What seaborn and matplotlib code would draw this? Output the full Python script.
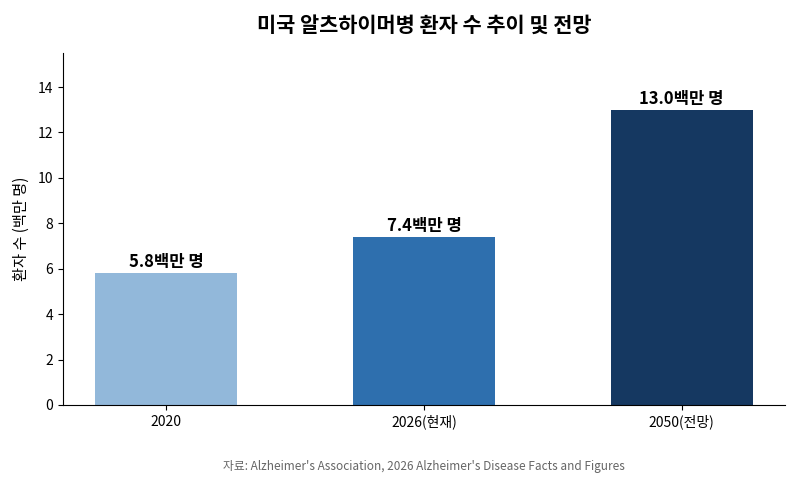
import matplotlib
matplotlib.use("Agg")
import matplotlib.pyplot as plt
import seaborn as sns
import pandas as pd

# data
years = ["2020", "2026(현재)", "2050(전망)"]
patients = [5.8, 7.4, 13.0]
bar_colors = ["#92b8da", "#2e6fae", "#153861"]

sns.set_style("ticks", {"axes.edgecolor": "black", "text.color": "black",
                        "xtick.color": "black", "ytick.color": "black",
                        "axes.labelcolor": "black"})
plt.rcParams['font.family'] = ['Noto Sans CJK KR', 'DejaVu Sans']
plt.rcParams['axes.unicode_minus'] = False

df = pd.DataFrame({"year": years, "patients": patients})

fig = plt.figure(figsize=(8, 5), dpi=100)
ax = fig.add_axes([0.079, 0.19, 0.902, 0.704])

sns.barplot(data=df, x="year", y="patients", hue="year", palette=bar_colors,
            width=0.55, legend=False, ax=ax, saturation=1, linewidth=0)

for i, v in enumerate(patients):
    ax.text(i, v + 0.1, f"{v:.1f}백만 명", ha="center", va="bottom",
            fontsize=12, fontweight="bold", color="black")

ax.set_xlim(-0.4, 2.4)
ax.set_ylim(0, 15.5)
ax.set_yticks(range(0, 15, 2))
ax.set_xlabel("")
ax.set_ylabel("환자 수 (백만 명)", fontsize=11, labelpad=6)
ax.tick_params(labelsize=10)
sns.despine(ax=ax)

fig.suptitle("미국 알츠하이머병 환자 수 추이 및 전망", fontsize=15, fontweight="bold",
             x=0.53, y=0.97, color="black")
fig.text(0.53, 0.06, "자료: Alzheimer's Association, 2026 Alzheimer's Disease Facts and Figures",
         ha="center", fontsize=8.5, color="#666666")

fig.savefig("out.png", dpi=100)
